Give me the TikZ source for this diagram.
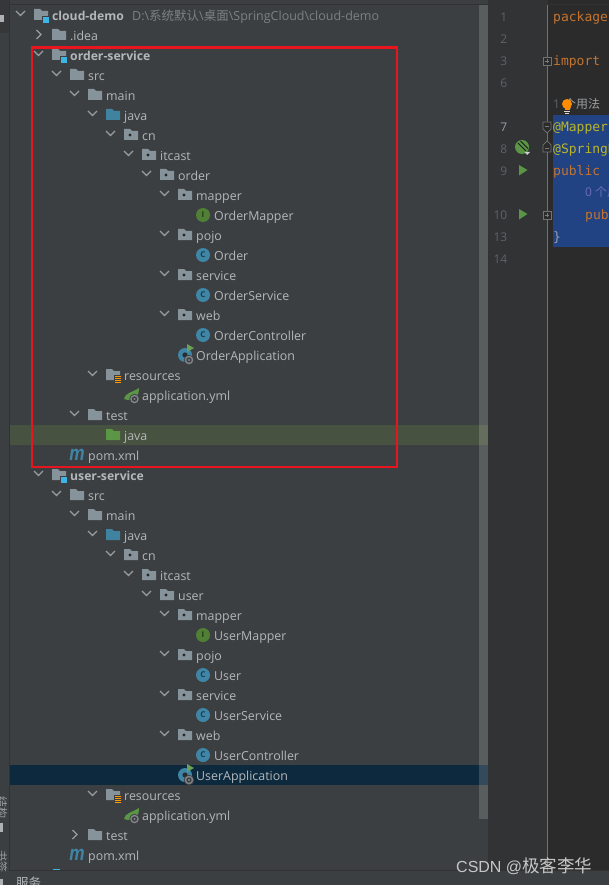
\documentclass[tikz,border=0pt]{standalone}
\usepackage{fontspec}
\setmainfont{Open Sans}
\newfontfamily\cjk{Noto Sans CJK SC}
\newfontfamily\codefont{DejaVu Sans Mono}
\newfontfamily\markfont{Liberation Sans}
\definecolor{panel}{HTML}{3C3F41}
\definecolor{sep}{HTML}{323232}
\definecolor{gutter}{HTML}{313335}
\definecolor{editor}{HTML}{2B2B2B}
\definecolor{treetext}{HTML}{B4B7B9}
\definecolor{chev}{HTML}{9A9DA0}
\definecolor{foldgrey}{HTML}{87939A}
\definecolor{foldblue}{HTML}{3F83A0}
\definecolor{foldgreen}{HTML}{5A9645}
\definecolor{modblue}{HTML}{3DB4E4}
\definecolor{classblue}{HTML}{3F85A6}
\definecolor{ifgreen}{HTML}{4F8036}
\definecolor{redbox}{HTML}{E8141E}
\definecolor{selrow}{HTML}{0D293E}
\definecolor{greenrow}{HTML}{485241}
\definecolor{codesel}{HTML}{214283}
\definecolor{kw}{HTML}{C4742F}
\definecolor{anno}{HTML}{BBB529}
\definecolor{linenum}{HTML}{606366}
\tikzset{
  x=1pt,y=-1pt,
  treelabel/.style={anchor=base west,inner sep=0pt,text=treetext,font=\fontsize{12.4}{14}\selectfont},
  boldlabel/.style={treelabel,font=\fontsize{12.2}{14}\selectfont\bfseries},
  codelabel/.style={anchor=base west,inner sep=0pt,font=\fontsize{13}{15}\codefont},
  numlabel/.style={anchor=base east,inner sep=0pt,text=linenum,font=\fontsize{12}{14}\selectfont},
  chevline/.style={draw=chev,line width=1.1pt,line join=miter},
  iconletter/.style={inner sep=0pt,font=\fontsize{8}{8}\selectfont\bfseries},
  foldbox/.style={draw=#1,fill=editor,line width=.7pt},
  foldbox/.default=chev!60!gutter,
}
% d = depth, y = row centre
\newcommand\Dn[2]{\pgfmathsetmacro\cx{20.5+18*#1}\draw[chevline] (\cx-4.5,#2-4) -- (\cx,#2+.5) -- (\cx+4.5,#2-4);}
\newcommand\Rt[2]{\pgfmathsetmacro\cx{20.5+18*#1}\draw[chevline] (\cx-2,#2-5) -- (\cx+2.5,#2-.5) -- (\cx-2,#2+4);}
\newcommand\Fold[3]{\pgfmathsetmacro\ix{34+18*#1}\fill[#3] (\ix,#2-6) -- (\ix+6,#2-6) -- (\ix+8,#2-4) -- (\ix+14,#2-4) -- (\ix+14,#2+5) -- (\ix,#2+5) -- cycle;}
\newcommand\Pkg[2]{\Fold{#1}{#2}{foldgrey}\fill[panel!60!black] (\ix+6,#2) circle (1.6);}
\newcommand\Mod[2]{\Fold{#1}{#2}{foldgrey}\fill[panel] (\ix+8,#2+1) rectangle (\ix+16,#2+9);\fill[modblue] (\ix+9,#2+2) rectangle (\ix+15,#2+8);}
\newcommand\Res[2]{\Fold{#1}{#2}{foldgrey}\fill[panel] (\ix+8,#2) rectangle (\ix+16,#2+8);
  \foreach \k in {1,3,5,7}{\draw[orange!80!yellow,line width=.9pt] (\ix+9,#2+\k) -- (\ix+15,#2+\k);}}
\newcommand\Lab[4]{\pgfmathsetmacro\tx{52+18*#2}\node[treelabel] (#1) at (\tx,#3+5.5) {#4};}
\newcommand\ClassIcon[4]{\pgfmathsetmacro\ix{41+18*#1}\fill[#3] (\ix,#2) circle (7);\node[iconletter,text=#3!45!black] at (\ix,#2) {#4};}
\newcommand\Gear[2]{\fill[chev!75!panel] (#1,#2) circle (4.3);\fill[panel] (#1,#2) circle (2.7);\fill[chev!75!panel] (#1,#2) circle (1.2);}
\newcommand\AppIcon[2]{\fill[classblue] (185,#1) circle (7);\fill[panel!70!black] (185,#1) circle (2.6);
  \fill[foldgreen!90!white] (187,#1-11) -- (194,#1-7) -- (187,#1-3) -- cycle;
  \fill[panel] (189,#1+5) circle (5.2);\Gear{189}{#1+5}}
\newcommand\Yml[1]{\fill[foldgreen] (124,#1+4) .. controls (125,#1-2) and (131,#1-2) .. (139,#1-7) .. controls (139,#1+2) and (134,#1+6) .. (128,#1+5) -- cycle;
  \fill[panel] (134.5,#1+4) circle (5.2);\Gear{134.5}{#1+4}}
\newcommand\Maven[2]{\node[inner sep=0pt,anchor=base,xscale=.82,text=classblue,font=\fontsize{21}{21}\markfont\bfseries\itshape] (#1) at (77,#2+5) {m};}
% common body of one module; #1 = first row, #2 = Capitalised name, #3 = lower-case name
\newcommand\ModuleBody[3]{%
  \pgfmathsetmacro\rA{int(#1+20)}\Dn{2}{\rA}\Fold{2}{\rA}{foldgrey}\Lab{#3src}{2}{\rA}{src}
  \pgfmathsetmacro\rA{int(#1+40)}\Dn{3}{\rA}\Fold{3}{\rA}{foldgrey}\Lab{#3main}{3}{\rA}{main}
  \pgfmathsetmacro\rA{int(#1+60)}\Dn{4}{\rA}\Fold{4}{\rA}{foldblue}\Lab{#3java}{4}{\rA}{java}
  \pgfmathsetmacro\rA{int(#1+80)}\Dn{5}{\rA}\Pkg{5}{\rA}\Lab{#3cn}{5}{\rA}{cn}
  \pgfmathsetmacro\rA{int(#1+100)}\Dn{6}{\rA}\Pkg{6}{\rA}\Lab{#3itcast}{6}{\rA}{itcast}
  \pgfmathsetmacro\rA{int(#1+120)}\Dn{7}{\rA}\Pkg{7}{\rA}\Lab{#3pack}{7}{\rA}{#3}
  \pgfmathsetmacro\rA{int(#1+140)}\Dn{8}{\rA}\Pkg{8}{\rA}\Lab{#3mapperdir}{8}{\rA}{mapper}
  \pgfmathsetmacro\rA{int(#1+160)}\ClassIcon{9}{\rA}{ifgreen}{I}\Lab{#3mapper}{9}{\rA}{#2Mapper}
  \pgfmathsetmacro\rA{int(#1+180)}\Dn{8}{\rA}\Pkg{8}{\rA}\Lab{#3pojodir}{8}{\rA}{pojo}
  \pgfmathsetmacro\rA{int(#1+200)}\ClassIcon{9}{\rA}{classblue}{C}\Lab{#3pojo}{9}{\rA}{#2}
  \pgfmathsetmacro\rA{int(#1+220)}\Dn{8}{\rA}\Pkg{8}{\rA}\Lab{#3servicedir}{8}{\rA}{service}
  \pgfmathsetmacro\rA{int(#1+240)}\ClassIcon{9}{\rA}{classblue}{C}\Lab{#3service}{9}{\rA}{#2Service}
  \pgfmathsetmacro\rA{int(#1+260)}\Dn{8}{\rA}\Pkg{8}{\rA}\Lab{#3webdir}{8}{\rA}{web}
  \pgfmathsetmacro\rA{int(#1+280)}\ClassIcon{9}{\rA}{classblue}{C}\Lab{#3web}{9}{\rA}{#2Controller}
  \pgfmathsetmacro\rA{int(#1+300)}\AppIcon{\rA}{}\Lab{#3app}{8}{\rA}{#2Application}
  \pgfmathsetmacro\rA{int(#1+320)}\Dn{4}{\rA}\Res{4}{\rA}\Lab{#3res}{4}{\rA}{resources}
  \pgfmathsetmacro\rA{int(#1+340)}\Yml{\rA}\Lab{#3yml}{5}{\rA}{application.yml}
}
\begin{document}
\begin{tikzpicture}
\useasboundingbox (0,0) rectangle (609,885);
\clip (0,0) rectangle (609,885);
% panels
\fill[panel] (0,0) rectangle (488,885);
\fill[gutter] (488,0) rectangle (548,871);
\fill[editor] (548,0) rectangle (609,871);
\fill[panel] (488,871) rectangle (609,885);
\fill[sep] (0,4) rectangle (609,5);
\fill[sep] (9,0) rectangle (10,871);
\fill[sep] (488,0) rectangle (489,871);
\fill[sep!60!panel] (0,0) rectangle (9,33);
\fill[sep] (9,870) rectangle (609,871);
\draw[chev!60!gutter,line width=.8pt] (547.5,5) -- (547.5,871);
% highlighted rows and scrollbar
\fill[greenrow] (10,425) rectangle (488,445);
\fill[selrow] (10,765) rectangle (488,785);
\fill[white,opacity=.155] (479,5) rectangle (488,819);
% left tool strip
\begin{scope}
\clip (0,0) rectangle (6,885);
\node[rotate=-90,inner sep=0pt,text=chev,font=\fontsize{11}{11}\cjk] (strA) at (2,807) {结构};
\node[rotate=-90,inner sep=0pt,text=chev,font=\fontsize{11}{11}\cjk] (strB) at (2,861) {书签};
\end{scope}
\fill[chev!80!white] (0,15) rectangle (4,22);
\fill[chev!80!white] (0,823) rectangle (3,832);
\fill[chev!80!white] (0,879) rectangle (3,885);
% tree: root
\Dn{0}{15}\Mod{0}{15}
\node[boldlabel] (root) at (52,20.5) {cloud-demo};
\node[anchor=base west,inner sep=0pt,text=chev!70!panel,font=\fontsize{12.5}{14}\selectfont] (rootpath) at (132,20.5) {D:\textbackslash{\cjk 系统默认}\textbackslash{\cjk 桌面}\textbackslash SpringCloud\textbackslash cloud-demo};
\Rt{1}{35}\Fold{1}{35}{foldgrey}\Lab{idea}{1}{35}{.idea}
% order-service
\Dn{1}{55}\Mod{1}{55}
\node[boldlabel] (ordermod) at (70,60.5) {order-service};
\ModuleBody{55}{Order}{order}
\Dn{3}{415}\Fold{3}{415}{foldgrey}\Lab{ordertest}{3}{415}{test}
\Fold{4}{435}{foldgreen}\Lab{ordertestjava}{4}{435}{java}
\Maven{orderm}{455}\Lab{orderpom}{2}{455}{pom.xml}
% user-service
\Dn{1}{475}\Mod{1}{475}
\node[boldlabel] (usermod) at (70,480.5) {user-service};
\ModuleBody{475}{User}{user}
\Rt{3}{835}\Fold{3}{835}{foldgrey}\Lab{usertest}{3}{835}{test}
\Maven{userm}{855}\Lab{userpom}{2}{855}{pom.xml}
% clipped next row and bottom bar
\fill[modblue] (53,869) rectangle (60,870);
\fill[panel] (10,871) rectangle (609,885);
\begin{scope}
\clip (10,871) rectangle (100,885);
\node[anchor=base west,inner sep=0pt,text=treetext,font=\fontsize{12.5}{14}\cjk] (svc) at (16,887) {服务};
\end{scope}
% red frame
\draw[redbox,line width=2.2pt] (32,47.5) rectangle (397,467);
% line numbers
\foreach \n/\yy in {1/17,2/39,3/61,6/83,8/149,9/171,10/215,13/237,14/259}{
  \node[numlabel] (ln\n) at (507.5,\yy+4.5) {\n};}
\node[numlabel,text=chev] (ln7) at (507.5,131.5) {7};
% gutter marks
\foreach \yy in {61,215}{
  \draw[foldbox] (543,\yy-4) rectangle (551,\yy+4);
  \draw[chev!70!gutter,line width=.6pt] (545,\yy) -- (549,\yy) (547,\yy-2) -- (547,\yy+2);}
\draw[foldbox] (543,122) -- (551,122) -- (551,129) -- (547,133) -- (543,129) -- cycle;
\draw[foldbox] (543,152) -- (551,152) -- (551,145) -- (547,141) -- (543,145) -- cycle;
\draw[chev!70!gutter,line width=.6pt] (545,148) -- (549,148) (545,126) -- (549,126);
\fill[foldgreen] (522,147) circle (7);
\draw[panel!40!black,line width=.9pt] (518,143) -- (526,151) (520.5,141) -- (528,148.5);
\fill[chev!50!white] (524.5,152) -- (530,152) -- (527.2,155) -- cycle;
\fill[foldgreen] (519,165) -- (527.5,170) -- (519,175.5) -- cycle;
\fill[foldgreen] (519,209) -- (527.5,214) -- (519,219.5) -- cycle;
% code
\fill[codesel] (553,115) rectangle (609,247);
\node[codelabel,text=kw] (c1) at (553,21.5) {package};
\node[codelabel,text=kw] (c3) at (553,65.5) {import};
\node[anchor=base west,inner sep=0pt,text=linenum,font=\fontsize{12}{14}\selectfont] (c6a) at (553,109) {1};
\node[anchor=base west,inner sep=0pt,text=chev,font=\fontsize{12}{14}\cjk] (c6b) at (564,109) {个用法};
\fill[orange!90!yellow] (567,104) circle (5);
\fill[orange!90!yellow] (564.5,107) rectangle (569.5,110);
\draw[white!85!black,line width=.7pt] (564,111) -- (570,111) (565,113) -- (569,113);
\node[codelabel,text=anno] (c7) at (553,131.5) {@Mapper};
\node[codelabel,text=anno] (c8) at (553,153.5) {@SpringBootApplication};
\node[codelabel,text=kw] (c9) at (553,175.5) {public class};
\node[anchor=base west,inner sep=0pt,text=blue!30!chev,font=\fontsize{12}{14}\selectfont] (c9b) at (585,197) {0 {\cjk 个用法}};
\node[codelabel,text=kw] (c10) at (585,219.5) {public static};
\node[codelabel,text=chev] (c13) at (553,241) {\}};
% watermark
\node[anchor=base west,inner sep=0pt,text=white!78!black,font=\fontsize{16}{18}\markfont] (wm) at (456,872) {CSDN @{\fontsize{17.5}{18}\cjk 极客李华}};
\end{tikzpicture}
\end{document}
